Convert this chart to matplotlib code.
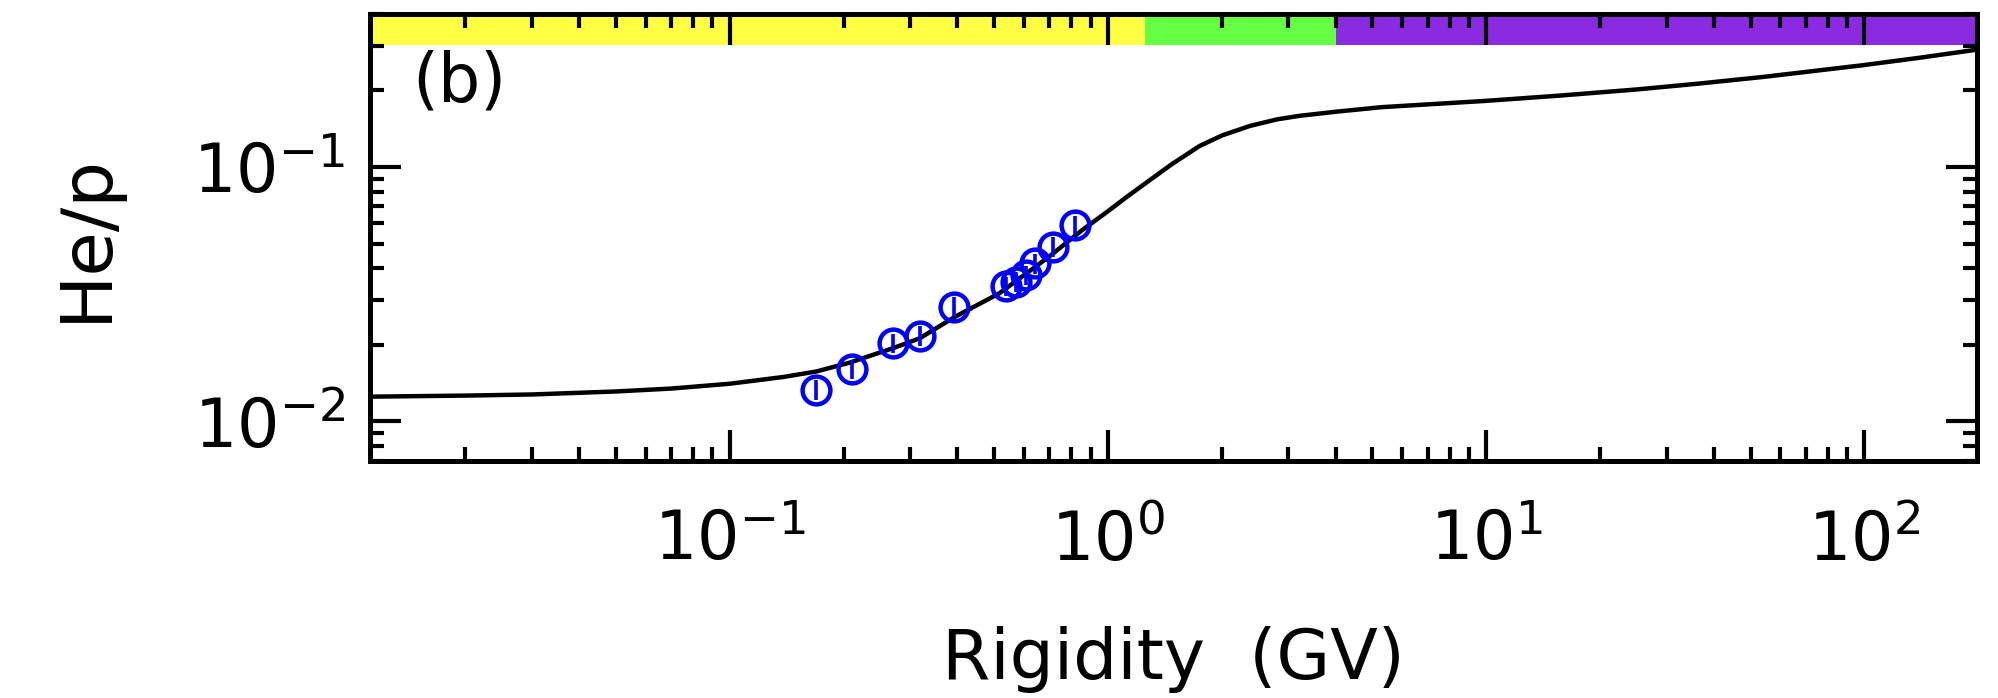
import matplotlib
matplotlib.use("Agg")
import matplotlib.pyplot as plt
from matplotlib.ticker import LogLocator, NullFormatter

# model curve He/p vs rigidity
curve_rig = [0.0112, 0.02, 0.03, 0.05, 0.07, 0.1, 0.1383, 0.1695, 0.2073, 0.2705,
             0.318, 0.393, 0.517, 0.70, 0.859, 1.0, 1.123, 1.289, 1.474, 1.747,
             2.0, 2.37, 2.8, 3.21, 4.0, 5.3, 10.0, 15.6, 25.0, 36.6,
             54.2, 98.9, 139.8, 197.7]
curve_ratio = [0.0125, 0.01262, 0.01275, 0.0131, 0.01345, 0.01405, 0.01493, 0.0157, 0.0170, 0.0194,
               0.0212, 0.0257, 0.0319, 0.0445, 0.0568, 0.0670, 0.0764, 0.0887, 0.1025, 0.121,
               0.133, 0.145, 0.154, 0.159, 0.165, 0.172, 0.1821, 0.1909, 0.2019, 0.2130,
               0.2263, 0.2514, 0.2690, 0.2893]

# measured points
data_rig = [0.1695, 0.211, 0.270, 0.318, 0.393, 0.539, 0.573, 0.6085, 0.640, 0.7155, 0.8166]
data_ratio = [0.0133, 0.01605, 0.0203, 0.0217, 0.0282, 0.0340, 0.0354, 0.0376, 0.0418, 0.0486, 0.0591]
data_err = [0.0012, 0.0014, 0.0018, 0.0019, 0.0025, 0.0030, 0.0031, 0.0033, 0.0037, 0.0043, 0.0052]

# colour bands along the top
band_edges = [0.0112, 1.25, 4.0, 198.0]
band_colors = ["#ffff44", "#66ff44", "#8a2be2"]

XMIN, XMAX = 0.0112, 198.0
YMIN, YMAX = 0.007, 0.40

fig = plt.figure(figsize=(19.98, 6.98), dpi=100)
ax = fig.add_axes([0.1852, 0.34, 0.8041, 0.64])

for i, c in enumerate(band_colors):
    ax.axvspan(band_edges[i], band_edges[i + 1], ymin=0.93, ymax=1.0,
               color=c, lw=0, zorder=0.5)

ax.plot(curve_rig, curve_ratio, color="black", lw=3.2, zorder=2)
ax.errorbar(data_rig, data_ratio, yerr=data_err, fmt="o", mfc="none", mec="blue",
            ms=20, mew=3.2, ecolor="blue", elinewidth=2.6, capsize=0, zorder=3)

ax.set_xscale("log")
ax.set_yscale("log")
ax.set_xlim(XMIN, XMAX)
ax.set_ylim(YMIN, YMAX)

for a in (ax.xaxis, ax.yaxis):
    a.set_major_locator(LogLocator(base=10))
    a.set_minor_locator(LogLocator(base=10, subs=range(2, 10)))
    a.set_minor_formatter(NullFormatter())

ax.tick_params(which="both", direction="in", top=True, right=True, width=3, labelsize=48)
ax.tick_params(which="major", length=22)
ax.tick_params(which="minor", length=10)
ax.tick_params(axis="x", pad=34)
ax.tick_params(axis="y", pad=18)
for s in ax.spines.values():
    s.set_linewidth(3.6)

ax.set_xlabel("Rigidity  (GV)", fontsize=50, labelpad=37)
ax.set_ylabel("He/p", fontsize=52, labelpad=52)
ax.text(0.026, 0.92, "(b)", transform=ax.transAxes, fontsize=48, va="top", ha="left")

fig.savefig("out.png", dpi=100)
